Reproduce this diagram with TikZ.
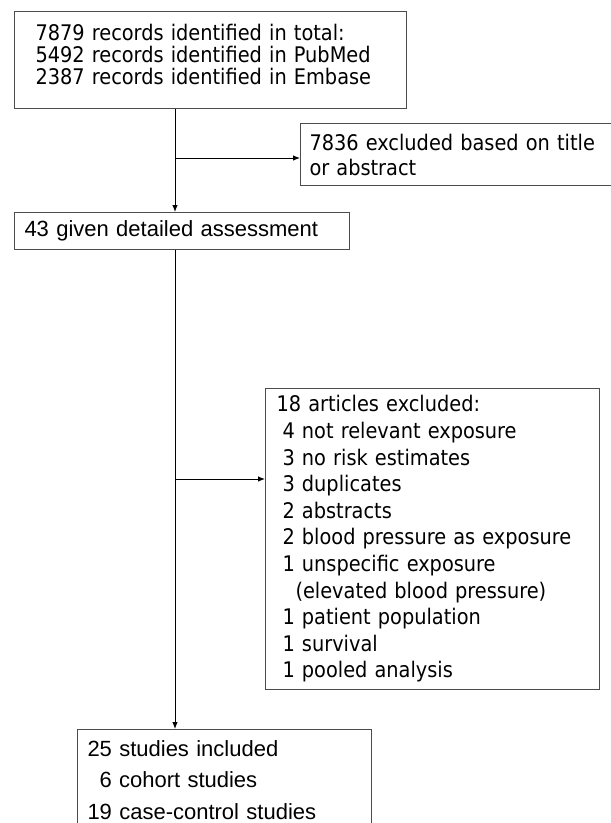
\documentclass[tikz,border=0pt]{standalone}
\usepackage{fontspec}
\setmainfont{DejaVu Sans Condensed}
\newfontfamily\arialfont{Liberation Sans}
\usetikzlibrary{arrows.meta}

\newcommand{\bottompad}[1]{\rule[-#1]{0pt}{#1}}

\tikzset{
  box/.style={draw=black!70, line width=1pt, rectangle, anchor=north west,
    align=left, inner ysep=0pt},
  flow/.style={-{Latex[length=7pt,width=5.5pt]}, line width=0.9pt, black}
}

\begin{document}
\begin{tikzpicture}[x=1pt,y=-1pt]
  \clip (0,0) rectangle (611,823);

  % boxes
  \node[box, minimum width=392pt, minimum height=97pt, inner xsep=21pt,
        text width=350pt, font=\fontsize{21.5}{21.7}\selectfont] (records) at (14,11)
    {7879 records identified in total:\\
     5492 records identified in PubMed\\
     2387 records identified in Embase\bottompad{11pt}};

  \node[box, minimum width=330pt, minimum height=62pt, inner xsep=9pt,
        text width=312pt, font=\fontsize{21.5}{25}\selectfont] (screened) at (300,123)
    {7836 excluded based on title\\
     or abstract};

  \node[box, minimum width=335pt, minimum height=37pt, inner xsep=10pt,
        text width=315pt, font=\arialfont\fontsize{22}{26}\selectfont] (assessed) at (14,212)
    {43 given detailed assessment};

  \node[box, minimum width=334pt, minimum height=301pt, inner xsep=11pt,
        text width=312pt, font=\fontsize{21.5}{26.6}\selectfont] (excluded) at (265,388)
    {18 articles excluded:\\
     \hspace*{6pt}4 not relevant exposure\\
     \hspace*{6pt}3 no risk estimates\\
     \hspace*{6pt}3 duplicates\\
     \hspace*{6pt}2 abstracts\\
     \hspace*{6pt}2 blood pressure as exposure\\
     \hspace*{6pt}1 unspecific exposure\\
     \hspace*{19pt}(elevated blood pressure)\\
     \hspace*{6pt}1 patient population\\
     \hspace*{6pt}1 survival\\
     \hspace*{6pt}1 pooled analysis};

  \node[box, minimum width=294pt, inner xsep=10pt, inner ysep=11pt,
        text width=274pt, font=\arialfont\fontsize{22}{31.5}\selectfont] (included) at (77,729)
    {25 studies included\\
     \hspace*{12pt}6 cohort studies\\
     19 case-control studies\bottompad{20pt}};

  % connectors
  \coordinate (branchA) at (175,158);
  \coordinate (branchB) at (175,479);
  \draw[flow] (records.south -| branchA) -- (assessed.north -| branchA);
  \draw[flow] (branchA) -- (branchA -| screened.west);
  \draw[flow] (assessed.south -| branchB) -- (included.north -| branchB);
  \draw[flow] (branchB) -- (branchB -| excluded.west);
\end{tikzpicture}
\end{document}
